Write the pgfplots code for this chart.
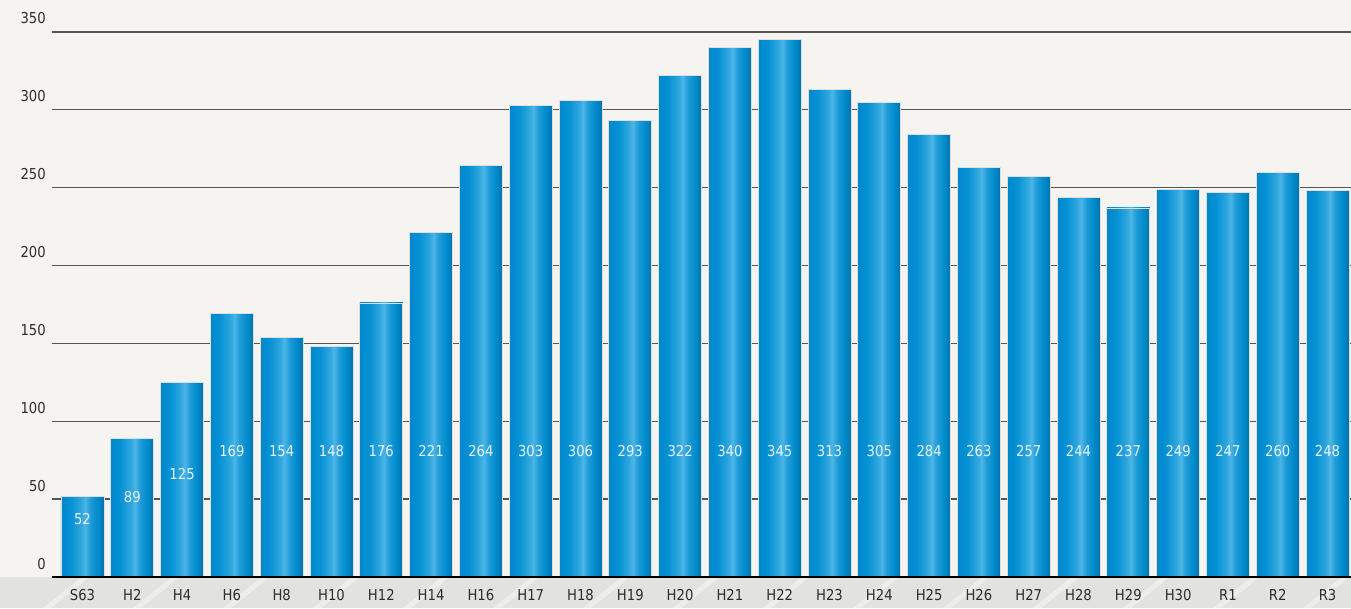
\documentclass[border=0pt]{standalone}
\usepackage{pgfplots}
\pgfplotsset{compat=1.18}
\usepackage{fontspec}
\setmainfont{DejaVu Sans}[FakeStretch=0.88]
\definecolor{bgcol}{RGB}{245,244,240}
\definecolor{bandcol}{RGB}{226,226,224}
\definecolor{gridcol}{RGB}{85,85,85}
\definecolor{txtcol}{RGB}{45,45,45}
\definecolor{lblcol}{RGB}{232,244,252}
\pgfdeclarehorizontalshading{barshade}{100bp}{
  rgb(0bp)=(0.00,0.52,0.79);
  rgb(25bp)=(0.00,0.53,0.80);
  rgb(36bp)=(0.02,0.57,0.83);
  rgb(48bp)=(0.18,0.65,0.87);
  rgb(53bp)=(0.30,0.71,0.90);
  rgb(59bp)=(0.12,0.61,0.85);
  rgb(67bp)=(0.00,0.55,0.80);
  rgb(75bp)=(0.00,0.45,0.69);
  rgb(100bp)=(0.00,0.45,0.69)}
\pgfplotstableread{
x y
0 52
1 89
2 125
3 169
4 154
5 148
6 176
7 221
8 264
9 303
10 306
11 293
12 322
13 340
14 345
15 313
16 305
17 284
18 263
19 257
20 244
21 237
22 249
23 247
24 260
25 248
}\bardata
\pgfplotstableread{
x ly v
0 37.2 52
1 51.4 89
2 66.2 125
3 81 169
4 81 154
5 81 148
6 81 176
7 81 221
8 81 264
9 81 303
10 81 306
11 81 293
12 81 322
13 81 340
14 81 345
15 81 313
16 81 305
17 81 284
18 81 263
19 81 257
20 81 244
21 81 237
22 81 249
23 81 247
24 81 260
25 81 248
}\lbldata
\begin{document}
\begin{tikzpicture}
\fill[bgcol] (-52pt,-31pt) rectangle (1299pt,577pt);
\fill[bandcol] (-52pt,-31pt) rectangle (1299pt,0pt);
\begin{scope}
\clip (-52pt,-31pt) rectangle (1299pt,0pt);
\foreach \s in {-60,30,120,...,1400}{
  \draw[white, opacity=0.4, line width=5pt] (\s pt-40pt,-35pt) -- (\s pt+10pt,5pt);
}
\end{scope}
\begin{axis}[
  scale only axis,
  width=1299pt, height=577pt,
  at={(0,0)}, anchor=south west,
  xmin=-0.612, xmax=25.472,
  ymin=0, ymax=370.5,
  axis x line=bottom,
  axis y line=left,
  x axis line style={draw=black, line width=1.3pt, -},
  y axis line style={draw=none},
  major tick length=0pt,
  ymajorgrids,
  grid style={draw=gridcol, line width=1.3pt},
  ytick={0,50,...,350},
  xtick={0,...,25},
  xticklabels={S63,H2,H4,H6,H8,H10,H12,H14,H16,H17,H18,H19,H20,H21,H22,H23,H24,H25,H26,H27,H28,H29,H30,R1,R2,R3},
  /pgf/number format/assume math mode=true,
  ticklabel style={font=\fontsize{15}{15}\selectfont, text=txtcol, inner sep=0pt},
  yticklabel style={anchor=base east, xshift=-6pt, yshift=8pt},
  xticklabel style={anchor=base, yshift=-23.5pt},
  clip=false,
]
\pgfplotsinvokeforeach{0,...,25}{
  \addplot[ybar, bar shift=0pt, bar width=0.863, shading=barshade, draw=black!13, line width=0.8pt,
    x filter/.expression={abs(x-#1)<0.2 ? x : nan}, forget plot] table[x=x,y=y] {\bardata};
}
\addplot[only marks, mark=*, mark size=0pt, draw=none, fill=none,
  point meta=explicit,
  nodes near coords={\pgfmathprintnumber{\pgfplotspointmeta}},
  nodes near coords style={anchor=center, text=lblcol, font=\fontsize{15}{15}\selectfont, inner sep=0pt},
] table[x=x,y=ly,meta=v] {\lbldata};
\end{axis}
\draw[black, line width=1.3pt] (0,0) -- (1299pt,0);
\pgfresetboundingbox
\useasboundingbox (-52pt,-31pt) rectangle (1299pt,577pt);
\end{tikzpicture}
\end{document}
